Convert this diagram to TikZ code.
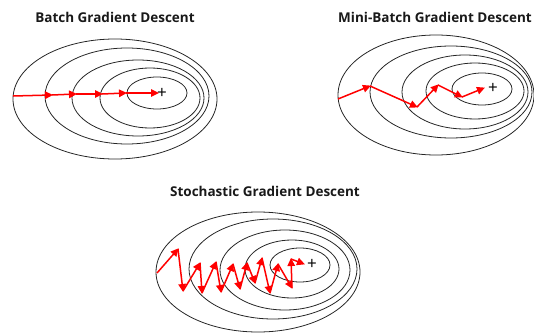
\documentclass[tikz,border=0pt]{standalone}
\usepackage{fontspec}
\setmainfont{Open Sans}
\usetikzlibrary{arrows.meta}
\tikzset{
  contour/.style={draw=black!85, line width=0.8pt},
  gd/.style={draw=red, line width=1.5pt, -{Triangle[length=8pt,width=7.5pt]}, shorten >=-1pt},
  title/.style={font=\bfseries\fontsize{13.5}{15}\selectfont, text=black!90, inner sep=0pt},
  optimum/.style={font=\fontsize{17}{17}\selectfont, inner sep=0pt}
}
\begin{document}
\begin{tikzpicture}[x=1pt,y=-1pt]
\useasboundingbox (0,0) rectangle (534,334);
% ---------- Batch ----------
\node[title] (t1) at (115,17) {Batch Gradient Descent};
\draw[contour] (115,99) ellipse [x radius=102, y radius=60];
\draw[contour] (127,96) ellipse [x radius=82, y radius=48];
\draw[contour] (138,98) ellipse [x radius=66, y radius=38];
\draw[contour] (150,98) ellipse [x radius=50, y radius=30];
\draw[contour] (157,93) ellipse [x radius=30, y radius=16];
\node[optimum] (o1) at (162,93) {+};
\coordinate (b0) at (13,96);
\coordinate (b1) at (52,95);
\coordinate (b2) at (76,94);
\coordinate (b3) at (102,94);
\coordinate (b4) at (126,93);
\coordinate (b5) at (158,93);
\draw[gd] (b0) -- (b1);
\draw[gd] (b1) -- (b2);
\draw[gd] (b2) -- (b3);
\draw[gd] (b3) -- (b4);
\draw[gd] (b4) -- (b5);
% ---------- Mini-batch ----------
\node[title, anchor=east] (t2) at (532,17) {Mini-Batch Gradient Descent};
\draw[contour] (436,95) ellipse [x radius=98, y radius=60];
\draw[contour] (451,92) ellipse [x radius=81, y radius=46];
\draw[contour] (465,92) ellipse [x radius=63, y radius=37];
\draw[contour] (475,91) ellipse [x radius=49, y radius=28];
\draw[contour] (482,89) ellipse [x radius=30, y radius=16];
\node[optimum] (o2) at (493,88) {+};
\coordinate (m0) at (338,99);
\coordinate (m1) at (370,86);
\coordinate (m2) at (417,107);
\coordinate (m3) at (438,85);
\coordinate (m4) at (462,97);
\coordinate (m5) at (484,88);
\draw[gd] (m0) -- (m1);
\draw[gd] (m1) -- (m2);
\draw[gd] (m2) -- (m3);
\draw[gd] (m3) -- (m4);
\draw[gd] (m4) -- (m5);
% ---------- Stochastic ----------
\node[title] (t3) at (265,191) {Stochastic Gradient Descent};
\draw[contour] (258,272) ellipse [x radius=102, y radius=60];
\draw[contour] (273,269) ellipse [x radius=84, y radius=50];
\draw[contour] (285,270) ellipse [x radius=65, y radius=40];
\draw[contour] (292,269) ellipse [x radius=47, y radius=29];
\draw[contour] (300,265) ellipse [x radius=30, y radius=17];
\node[optimum] (o3) at (312,264) {+};
\coordinate (s0) at (157,273);
\coordinate (s1) at (178,249);
\coordinate (s2) at (183,291);
\coordinate (s3) at (200,263);
\coordinate (s4) at (202,293);
\coordinate (s5) at (216,262);
\coordinate (s6) at (221,292);
\coordinate (s7) at (233,264);
\coordinate (s8) at (240,289);
\coordinate (s9) at (247,263);
\coordinate (s10) at (255,283);
\coordinate (s11) at (262,258);
\coordinate (s12) at (270,293);
\coordinate (s13) at (278,264);
\coordinate (s14) at (292,288);
\coordinate (s15) at (291,259);
\coordinate (s16) at (304,264);
\foreach \a/\b in {s0/s1,s1/s2,s2/s3,s3/s4,s4/s5,s5/s6,s6/s7,s7/s8,s8/s9,s9/s10,s10/s11,s11/s12,s12/s13,s13/s14,s14/s15,s15/s16}
  \draw[gd] (\a) -- (\b);
\end{tikzpicture}
\end{document}
